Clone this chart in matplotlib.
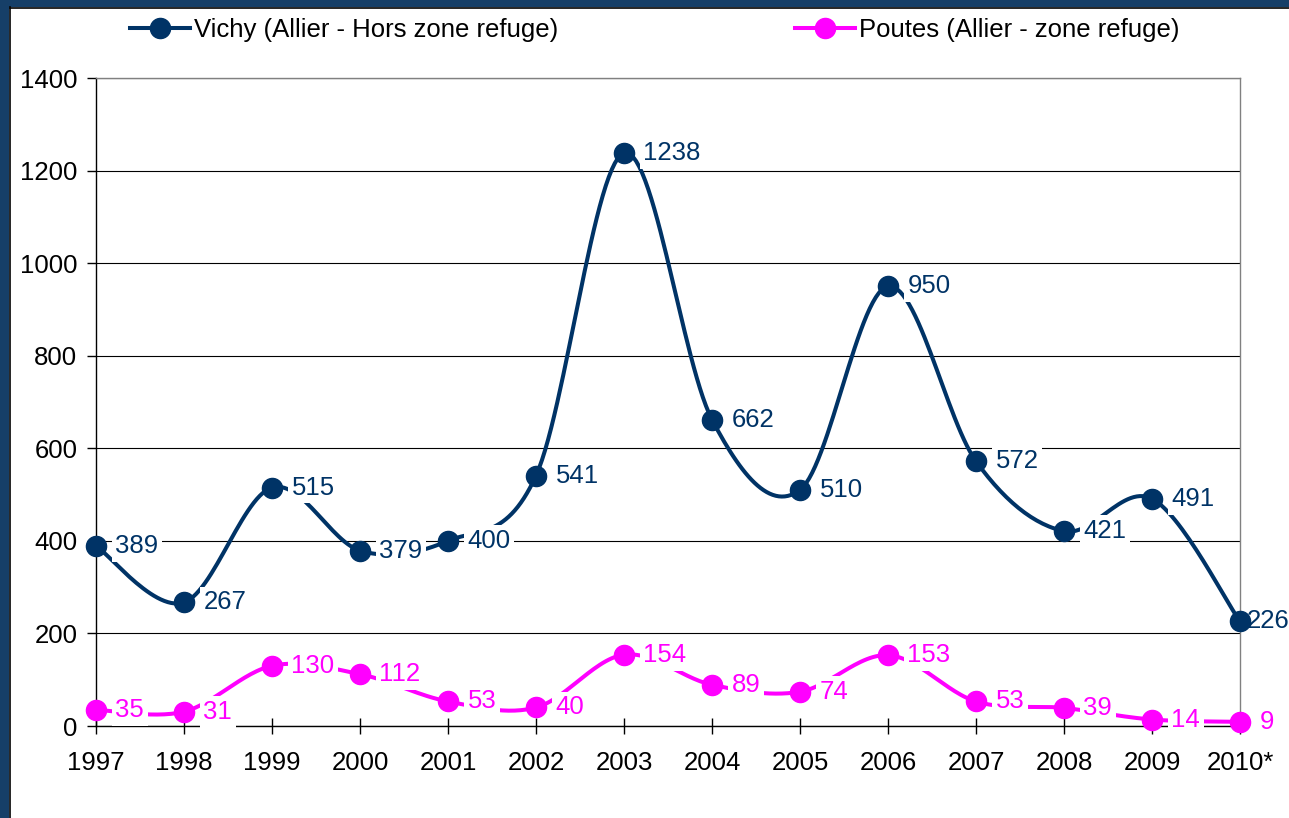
import numpy as np
import matplotlib
matplotlib.use("Agg")
import matplotlib.pyplot as plt
from matplotlib.lines import Line2D
from matplotlib.patches import Rectangle

years = ["1997", "1998", "1999", "2000", "2001", "2002", "2003",
         "2004", "2005", "2006", "2007", "2008", "2009", "2010*"]
vichy = [389, 267, 515, 379, 400, 541, 1238, 662, 510, 950, 572, 421, 491, 226]
poutes = [35, 31, 130, 112, 53, 40, 154, 89, 74, 153, 53, 39, 14, 9]
vichy_name = "Vichy (Allier - Hors zone refuge)"
poutes_name = "Poutes (Allier - zone refuge)"

C_VICHY = "#003366"
C_POUTES = "#FF00FF"
C_BORDER = "#163F68"

plt.rcParams['font.family'] = ['Liberation Sans', 'DejaVu Sans']
FS = 18.5
LW = 2.9
MS = 14.5


def smooth(xs, ys, n=30):
    """Excel-style smoothed line (Catmull-Rom as cubic Bezier)."""
    P = np.column_stack([xs, ys]).astype(float)
    m = len(P)
    out = []
    for i in range(m - 1):
        p0 = P[i - 1] if i > 0 else P[i]
        p1 = P[i]
        p2 = P[i + 1]
        p3 = P[i + 2] if i + 2 < m else P[i + 1]
        c1 = p1 + (p2 - p0) / 6.0
        c2 = p2 - (p3 - p1) / 6.0
        t = np.linspace(0, 1, n)[:, None]
        seg = ((1 - t) ** 3) * p1 + 3 * ((1 - t) ** 2) * t * c1 + 3 * (1 - t) * t ** 2 * c2 + t ** 3 * p2
        if i > 0:
            seg = seg[1:]
        out.append(seg)
    out = np.vstack(out)
    return out[:, 0], out[:, 1]


fig = plt.figure(figsize=(12.89, 8.18), dpi=100)
W, H = 1289, 818
ax = fig.add_axes([96 / W, 1 - 726 / H, (1240 - 96) / W, (726 - 78) / H])

x = np.arange(len(years))

for vals, col, last_off in [(vichy, C_VICHY, 5), (poutes, C_POUTES, 14)]:
    sx, sy = smooth(x, vals)
    ax.plot(sx, sy, color=col, lw=LW, zorder=3, clip_on=False, solid_capstyle='round')
    ax.plot(x, vals, ls='none', marker='o', ms=MS, color=col, zorder=6, clip_on=False)
    for xi, v in zip(x, vals):
        off = last_off if xi == x[-1] else 14
        ax.annotate(str(v), xy=(xi, v), xytext=(off, 0), textcoords='offset points',
                    ha='left', va='center', fontsize=FS, color=col, zorder=5,
                    bbox=dict(boxstyle='square,pad=0.15', fc='white', ec='none'),
                    annotation_clip=False)

ax.set_xlim(0, len(years) - 1)
ax.set_ylim(0, 1400)
ax.set_yticks(np.arange(0, 1401, 200))
ax.set_xticks(x)
ax.set_xticklabels(years)
ax.yaxis.grid(True, color='black', lw=0.8, zorder=1)
ax.set_axisbelow(True)
for s in ['top', 'right']:
    ax.spines[s].set_color('#808080')
    ax.spines[s].set_linewidth(1.0)
for s in ['left', 'bottom']:
    ax.spines[s].set_color('black')
    ax.spines[s].set_linewidth(1.0)
ax.tick_params(axis='y', direction='out', length=6.5, width=1, pad=7, labelsize=FS)
ax.tick_params(axis='x', direction='inout', length=11.5, width=1, pad=12, labelsize=FS)

# Legend
h1 = Line2D([], [], color=C_VICHY, lw=LW, marker='o', ms=MS)
h2 = Line2D([], [], color=C_POUTES, lw=LW, marker='o', ms=MS)
kw = dict(frameon=False, fontsize=FS, handlelength=2.35, handletextpad=0.15,
          borderpad=0, borderaxespad=0, loc='center left')
fig.legend([h1], [vichy_name], bbox_to_anchor=(130 / W, 1 - 30 / H), **kw)
fig.legend([h2], [poutes_name], bbox_to_anchor=(795 / W, 1 - 30 / H), **kw)

# Frame decoration
fig.patches.append(Rectangle((0, 0), 9 / W, 1, transform=fig.transFigure, fc=C_BORDER, ec='none', zorder=0))
fig.patches.append(Rectangle((0, 1 - 7 / H), 1, 7 / H, transform=fig.transFigure, fc=C_BORDER, ec='none', zorder=0))
fig.lines.append(Line2D([9.5 / W, 9.5 / W], [0, 1 - 7 / H], transform=fig.transFigure, color='black', lw=1.2))
fig.lines.append(Line2D([9.5 / W, 1], [1 - 7.5 / H, 1 - 7.5 / H], transform=fig.transFigure, color='black', lw=1.2))

fig.savefig("out.png", dpi=100, facecolor='white')
